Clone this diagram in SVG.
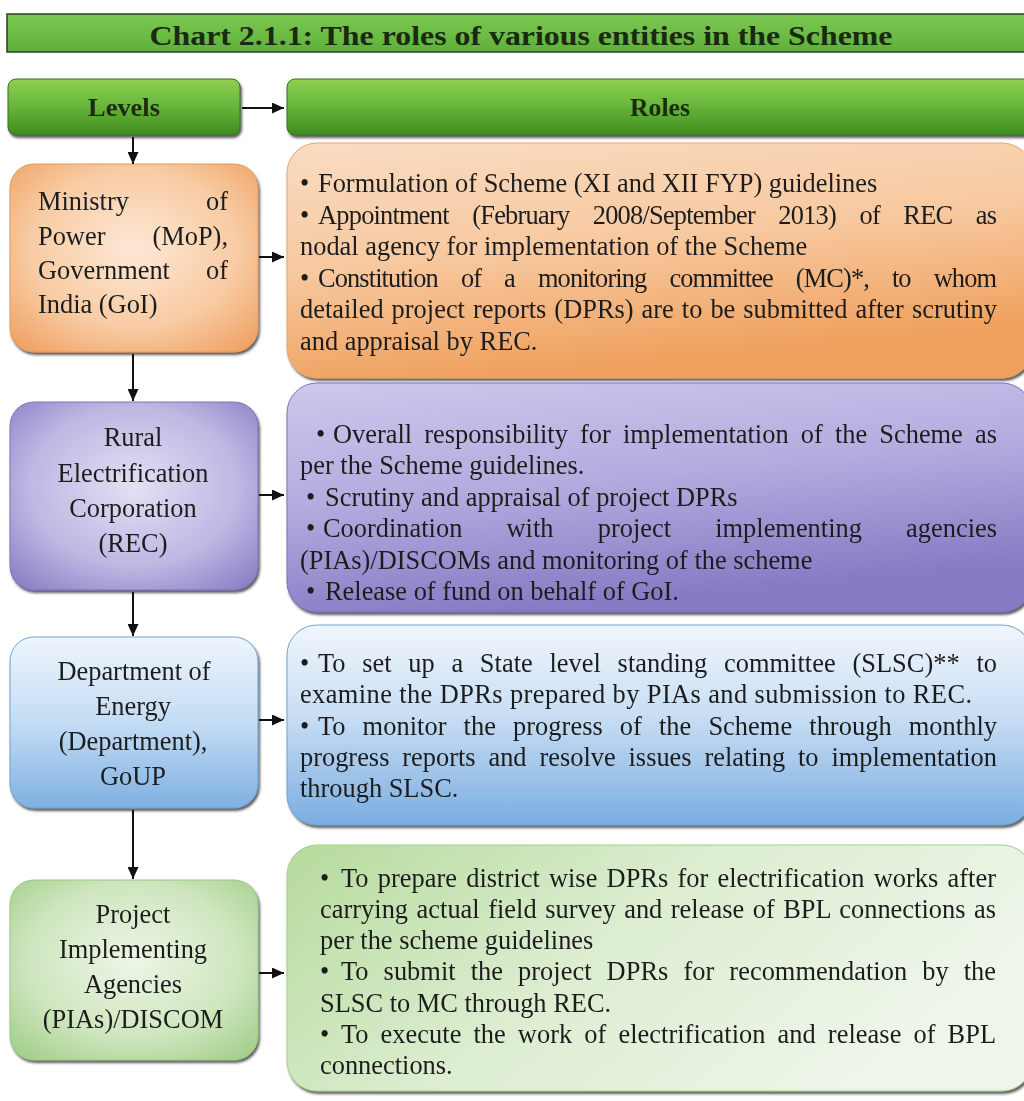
<svg xmlns="http://www.w3.org/2000/svg" width="1024" height="1101" viewBox="0 0 1024 1101">
<style>
.t{font-family:"Liberation Serif","Times New Roman",serif;font-size:26.4px;fill:#1e1e1e}
.c{text-anchor:middle}
.e{text-anchor:end}
.h{font-family:"Liberation Serif","Times New Roman",serif;font-weight:bold;fill:#1a2a10}
.box{filter:url(#sh)}
.conn line{stroke:#111;stroke-width:2;marker-end:url(#ah)}
</style>
<defs>
<marker id="ah" markerUnits="userSpaceOnUse" markerWidth="12" markerHeight="11" refX="12" refY="5.5" orient="auto"><path d="M0,0 L12,5.5 L0,11 z" fill="#111"/></marker>
<filter id="sh" x="-5%" y="-5%" width="112%" height="115%"><feDropShadow dx="1.5" dy="2.5" stdDeviation="1.2" flood-color="#2a2a2a" flood-opacity="0.75"/></filter>
<linearGradient id="gTitle" x1="0" y1="0" x2="0" y2="1"><stop offset="0" stop-color="#7bc753"/><stop offset="0.5" stop-color="#6dbd46"/><stop offset="1" stop-color="#5eae3a"/></linearGradient>
<linearGradient id="gHead" x1="0" y1="0" x2="0" y2="1"><stop offset="0" stop-color="#8fcf52"/><stop offset="0.45" stop-color="#6ab83c"/><stop offset="1" stop-color="#3f8c20"/></linearGradient>
<radialGradient id="gO" cx="0.5" cy="0.45" r="0.7"><stop offset="0" stop-color="#fde8d6"/><stop offset="0.6" stop-color="#f8cba3"/><stop offset="1" stop-color="#efa263"/></radialGradient>
<linearGradient id="gOR" x1="0" y1="0" x2="0.3" y2="1"><stop offset="0" stop-color="#f9dcc2"/><stop offset="0.5" stop-color="#f7c9a0"/><stop offset="1" stop-color="#efa05c"/></linearGradient>
<radialGradient id="gP" cx="0.5" cy="0.45" r="0.7"><stop offset="0" stop-color="#e3e0f4"/><stop offset="0.6" stop-color="#beb8e3"/><stop offset="1" stop-color="#8a80c6"/></radialGradient>
<linearGradient id="gPR" x1="0" y1="0" x2="0.3" y2="1"><stop offset="0" stop-color="#cdc8ec"/><stop offset="0.5" stop-color="#b3acdf"/><stop offset="1" stop-color="#857bc4"/></linearGradient>
<linearGradient id="gB" x1="0" y1="0" x2="0" y2="1"><stop offset="0" stop-color="#eef5fd"/><stop offset="0.5" stop-color="#c4dcf4"/><stop offset="1" stop-color="#7eb0e2"/></linearGradient>
<linearGradient id="gBR" x1="0" y1="0" x2="0" y2="1"><stop offset="0" stop-color="#f0f6fd"/><stop offset="0.45" stop-color="#c9def4"/><stop offset="1" stop-color="#7aade0"/></linearGradient>
<radialGradient id="gG" cx="0.5" cy="0.45" r="0.7"><stop offset="0" stop-color="#edf6e6"/><stop offset="0.6" stop-color="#cfe6bf"/><stop offset="1" stop-color="#a2cf8a"/></radialGradient>
<linearGradient id="gGR" x1="0" y1="0" x2="1" y2="0.4"><stop offset="0" stop-color="#b5da9c"/><stop offset="0.5" stop-color="#dcedd0"/><stop offset="1" stop-color="#eef6ea"/></linearGradient>
</defs>

<g id="title">
<rect x="7" y="14" width="1030" height="38" fill="url(#gTitle)" stroke="#2e3b28" stroke-width="1.5"/>
<text class="h" x="521" y="45" font-size="28" text-anchor="middle" textLength="743" lengthAdjust="spacingAndGlyphs">Chart 2.1.1: The roles of various entities in the Scheme</text>
</g>

<g id="levels" class="box">
<rect x="8" y="79" width="232" height="56" rx="8" fill="url(#gHead)" stroke="#3d6e22" stroke-width="1"/>
<text class="h" x="124" y="116" font-size="25" text-anchor="middle" textLength="72" lengthAdjust="spacingAndGlyphs">Levels</text>
</g>
<g id="roles" class="box">
<rect x="287" y="79" width="745" height="56" rx="8" fill="url(#gHead)" stroke="#3d6e22" stroke-width="1"/>
<text class="h" x="660" y="116" font-size="25" text-anchor="middle" textLength="60" lengthAdjust="spacingAndGlyphs">Roles</text>
</g>

<g id="mop" class="box">
<rect x="10" y="164" width="248" height="188" rx="24" fill="url(#gO)" stroke="#e59a58" stroke-width="1"/>
<text class="t" x="38" y="210">Ministry</text><text class="t e" x="228" y="210">of</text>
<text class="t" x="38" y="244.5">Power</text><text class="t e" x="228" y="244.5">(MoP),</text>
<text class="t" x="38" y="279">Government</text><text class="t e" x="228" y="279">of</text>
<text class="t" x="38" y="313">India (GoI)</text>
</g>
<g id="roles-mop" class="box">
<rect x="287" y="143" width="745" height="235" rx="30" fill="url(#gOR)" stroke="#e9a567" stroke-width="1"/>
<text class="t" x="300" y="192">•</text><text class="t" x="318" y="192">Formulation of Scheme (XI and XII FYP) guidelines</text>
<text class="t" x="300" y="224">•</text><text class="t" x="318" y="224" style="word-spacing:17.6px" textLength="679" lengthAdjust="spacing">Appointment (February 2008/September 2013) of REC as</text>
<text class="t" x="300" y="255">nodal agency for implementation of the Scheme</text>
<text class="t" x="300" y="287">•</text><text class="t" x="318" y="287" style="word-spacing:17.3px" textLength="679" lengthAdjust="spacing">Constitution of a monitoring committee (MC)*, to whom</text>
<text class="t" x="300" y="318" style="word-spacing:1.4px" textLength="697" lengthAdjust="spacing">detailed project reports (DPRs) are to be submitted after scrutiny</text>
<text class="t" x="300" y="350">and appraisal by REC.</text>
</g>

<g id="rec" class="box">
<rect x="10" y="402" width="248" height="188" rx="24" fill="url(#gP)" stroke="#7d73bd" stroke-width="1"/>
<text class="t c" x="133" y="446">Rural</text>
<text class="t c" x="133" y="482">Electrification</text>
<text class="t c" x="133" y="517">Corporation</text>
<text class="t c" x="133" y="552">(REC)</text>
</g>
<g id="roles-rec" class="box">
<rect x="287" y="383" width="745" height="229" rx="30" fill="url(#gPR)" stroke="#7b71bd" stroke-width="1"/>
<text class="t" x="316" y="443">•</text><text class="t" x="333" y="443" style="word-spacing:5.6px" textLength="664" lengthAdjust="spacing">Overall responsibility for implementation of the Scheme as</text>
<text class="t" x="300" y="474">per the Scheme guidelines.</text>
<text class="t" x="306" y="506">•</text><text class="t" x="325" y="506">Scrutiny and appraisal of project DPRs</text>
<text class="t" x="306" y="537">•</text><text class="t" x="323" y="537" style="word-spacing:37.6px" textLength="674" lengthAdjust="spacing">Coordination with project implementing agencies</text>
<text class="t" x="300" y="569">(PIAs)/DISCOMs and monitoring of the scheme</text>
<text class="t" x="306" y="600">•</text><text class="t" x="325" y="600">Release of fund on behalf of GoI.</text>
</g>

<g id="dept" class="box">
<rect x="10" y="637" width="248" height="171" rx="24" fill="url(#gB)" stroke="#6fa3d6" stroke-width="1"/>
<text class="t c" x="134" y="680">Department of</text>
<text class="t c" x="133" y="715">Energy</text>
<text class="t c" x="133" y="750">(Department),</text>
<text class="t c" x="133" y="785">GoUP</text>
</g>
<g id="roles-dept" class="box">
<rect x="287" y="625" width="745" height="200" rx="30" fill="url(#gBR)" stroke="#6fa3d6" stroke-width="1"/>
<text class="t" x="300" y="672">•</text><text class="t" x="318" y="672" style="word-spacing:10px" textLength="679" lengthAdjust="spacing">To set up a State level standing committee (SLSC)** to</text>
<text class="t" x="300" y="703" textLength="672" lengthAdjust="spacing">examine the DPRs prepared by PIAs and submission to REC.</text>
<text class="t" x="300" y="735">•</text><text class="t" x="318" y="735" style="word-spacing:10.4px" textLength="679" lengthAdjust="spacing">To monitor the progress of the Scheme through monthly</text>
<text class="t" x="300" y="766" style="word-spacing:6.3px" textLength="697" lengthAdjust="spacing">progress reports and resolve issues relating to implementation</text>
<text class="t" x="300" y="797">through SLSC.</text>
</g>

<g id="pias" class="box">
<rect x="10" y="880" width="248" height="180" rx="24" fill="url(#gG)" stroke="#98c882" stroke-width="1"/>
<text class="t c" x="133" y="923">Project</text>
<text class="t c" x="133" y="958">Implementing</text>
<text class="t c" x="133" y="993">Agencies</text>
<text class="t c" x="133" y="1028">(PIAs)/DISCOM</text>
</g>
<g id="roles-pias" class="box">
<rect x="287" y="845" width="745" height="246" rx="30" fill="url(#gGR)" stroke="#a3cf8c" stroke-width="1"/>
<text class="t" x="320" y="887">•</text><text class="t" x="341" y="887" style="word-spacing:2.5px" textLength="655" lengthAdjust="spacing">To prepare district wise DPRs for electrification works after</text>
<text class="t" x="320" y="918" style="word-spacing:1.9px" textLength="676" lengthAdjust="spacing">carrying actual field survey and release of BPL connections as</text>
<text class="t" x="320" y="949">per the scheme guidelines</text>
<text class="t" x="320" y="980">•</text><text class="t" x="341" y="980" style="word-spacing:8.4px" textLength="655" lengthAdjust="spacing">To submit the project DPRs for recommendation by the</text>
<text class="t" x="320" y="1012">SLSC to MC through REC.</text>
<text class="t" x="320" y="1043">•</text><text class="t" x="341" y="1043" style="word-spacing:5.4px" textLength="655" lengthAdjust="spacing">To execute the work of electrification and release of BPL</text>
<text class="t" x="320" y="1074">connections.</text>
</g>

<g id="connectors" class="conn">
<line x1="242" y1="108" x2="284" y2="108"/>
<line x1="133" y1="137" x2="133" y2="164"/>
<line x1="259" y1="257" x2="284" y2="257"/>
<line x1="133" y1="354" x2="133" y2="401"/>
<line x1="259" y1="495" x2="284" y2="495"/>
<line x1="133" y1="592" x2="133" y2="636"/>
<line x1="259" y1="720" x2="284" y2="720"/>
<line x1="133" y1="810" x2="133" y2="879"/>
<line x1="259" y1="973" x2="284" y2="973"/>
</g>
</svg>
